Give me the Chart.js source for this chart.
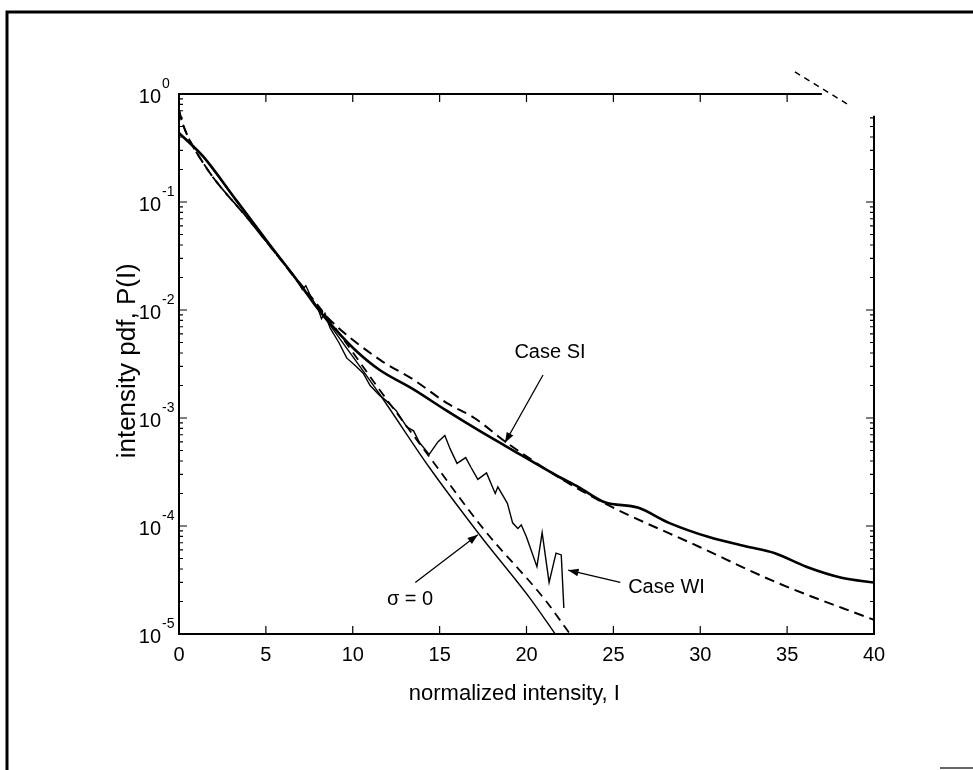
<!DOCTYPE html>
<html>
<head>
<meta charset="utf-8">
<script src="https://cdn.jsdelivr.net/npm/chart.js@4/dist/chart.umd.min.js"></script>
<style>
  body { margin: 0; background: #fff; }
  canvas { display: block; }
</style>
</head>
<body>
<canvas id="myChart" width="973" height="770"></canvas>
<script>
// Case SI, simulated (solid)
const siSolidI = [0, 1.4, 3.3, 5.2, 7.1, 7.9, 9.0, 10.2, 11.55, 13.45, 15.4, 17.3, 18.8, 21.7, 23.0, 24.5, 26.4, 28.2, 30.5, 32.6, 34.3, 36.1, 38.2, 40];
const siSolidP = [0.437, 0.263, 0.1035, 0.0407, 0.0162, 0.0107, 0.0066, 0.00417, 0.00278, 0.00186, 0.00117, 7.6e-4, 5.5e-4, 2.95e-4, 2.29e-4, 1.66e-4, 1.48e-4, 1.07e-4, 7.9e-5, 6.5e-5, 5.6e-5, 4.2e-5, 3.3e-5, 3.0e-5];

// Case SI, theory (dashed)
const siDashI = [0, 0.2, 1.4, 4.1, 5.8, 8.5, 11.55, 13.45, 15.4, 17.0, 18.8, 21.9, 24.5, 29.9, 34.5, 40];
const siDashP = [0.708, 0.537, 0.229, 0.066, 0.030, 0.0087, 0.00347, 0.00229, 0.00138, 0.001, 6.0e-4, 2.8e-4, 1.62e-4, 6.46e-5, 2.95e-5, 1.35e-5];

// Case WI, simulated (wiggly solid)
const wiI = [0, 1.4, 3.3, 5.2, 6.6, 6.8, 7.1, 7.3, 7.6, 8.0, 8.2, 8.4, 8.7, 9.2, 9.65, 10.2, 10.6, 11.0, 11.55, 12.0, 12.5, 13.1, 13.5, 13.85, 14.4, 14.9, 15.3, 15.6, 16.0, 16.5, 16.8, 17.2, 17.7, 18.2, 18.35, 18.9, 19.2, 19.5, 19.7, 20.0, 20.6, 20.9, 21.3, 21.7, 22.0, 22.15];
const wiP = [0.437, 0.263, 0.1035, 0.0407, 0.021, 0.019, 0.0155, 0.0168, 0.0132, 0.0103, 0.0083, 0.0093, 0.0068, 0.005, 0.0036, 0.003, 0.0026, 0.002, 0.00162, 0.00141, 0.00117, 8.3e-4, 7.6e-4, 5.9e-4, 4.6e-4, 6.0e-4, 6.9e-4, 5.2e-4, 3.8e-4, 4.3e-4, 3.5e-4, 2.7e-4, 3.1e-4, 2.0e-4, 2.3e-4, 1.62e-4, 1.07e-4, 9.5e-5, 1.02e-4, 7.9e-5, 4.2e-5, 8.7e-5, 3.0e-5, 5.6e-5, 5.4e-5, 1.74e-5];

// sigma = 0, simulated (solid) and theory (dashed)
const zeroSolidI = [0, 1.4, 3.3, 5.2, 7.1, 8.7, 11.55, 14.4, 17.3, 20.3, 21.65];
const zeroSolidP = [0.437, 0.263, 0.1035, 0.0407, 0.0162, 0.0072, 0.00166, 3.5e-4, 8.3e-5, 2.04e-5, 1e-5];
const zeroDashI = [0, 0.2, 1.4, 4.1, 5.8, 8.5, 11.55, 14.4, 17.5, 21.1, 22.5];
const zeroDashP = [0.708, 0.537, 0.229, 0.066, 0.030, 0.0087, 0.00182, 4.4e-4, 9.5e-5, 2.04e-5, 1e-5];

const xTicks = [0, 5, 10, 15, 20, 25, 30, 35, 40];
const yExps = [0, -1, -2, -3, -4, -5];

// annotations in data space: [I, P]
const notes = [
  { text: "Case SI", at: [21.35, 4.0e-3], tail: [20.95, 2.5e-3], head: [18.76, 5.9e-4], align: "center" },
  { text: "Case WI", at: [25.85, 2.7e-5], tail: [25.4, 3.0e-5], head: [22.4, 3.9e-5], align: "left" },
  { text: "\u03c3 = 0", at: [13.3, 2.1e-5], tail: [13.6, 3.0e-5], head: [17.2, 8.3e-5], align: "center" }
];

const FONT = "'Liberation Sans', Arial, Helvetica, sans-serif";

function pts(xs, ys) {
  return xs.map((x, i) => ({ x: x, y: ys[i] }));
}

function arrow(ctx, x1, y1, x2, y2) {
  const ang = Math.atan2(y2 - y1, x2 - x1);
  ctx.beginPath();
  ctx.moveTo(x1, y1);
  ctx.lineTo(x2, y2);
  ctx.stroke();
  ctx.beginPath();
  ctx.moveTo(x2, y2);
  ctx.lineTo(x2 - 11 * Math.cos(ang - 0.35), y2 - 11 * Math.sin(ang - 0.35));
  ctx.lineTo(x2 - 11 * Math.cos(ang + 0.35), y2 - 11 * Math.sin(ang + 0.35));
  ctx.closePath();
  ctx.fill();
}

const framePlugin = {
  id: "frame",
  afterDraw(chart) {
    const ctx = chart.ctx;
    const xs = chart.scales.x;
    const ys = chart.scales.y;
    const a = chart.chartArea;
    ctx.save();
    ctx.strokeStyle = "#000";
    ctx.fillStyle = "#000";

    // outer page border
    ctx.lineWidth = 3;
    ctx.beginPath();
    ctx.moveTo(7, 770);
    ctx.lineTo(7, 12);
    ctx.lineTo(973, 12);
    ctx.stroke();
    ctx.lineWidth = 2;
    ctx.strokeStyle = "#666";
    ctx.beginPath();
    ctx.moveTo(940, 768);
    ctx.lineTo(973, 768);
    ctx.stroke();
    ctx.strokeStyle = "#000";

    // axes box (top and right edges are broken in the scan)
    ctx.lineWidth = 2;
    ctx.beginPath();
    ctx.moveTo(xs.getPixelForValue(37), a.top);
    ctx.lineTo(a.left, a.top);
    ctx.lineTo(a.left, a.bottom);
    ctx.lineTo(a.right, a.bottom);
    ctx.lineTo(a.right, ys.getPixelForValue(0.63));
    ctx.stroke();
    ctx.lineWidth = 1.5;
    ctx.setLineDash([6, 5]);
    ctx.beginPath();
    ctx.moveTo(xs.getPixelForValue(35.45), ys.getPixelForValue(1.6));
    ctx.lineTo(xs.getPixelForValue(38.5), ys.getPixelForValue(0.8));
    ctx.stroke();
    ctx.setLineDash([]);

    // ticks, inward on all sides
    ctx.lineWidth = 1.2;
    ctx.beginPath();
    xTicks.forEach((v) => {
      const px = xs.getPixelForValue(v);
      ctx.moveTo(px, a.bottom);
      ctx.lineTo(px, a.bottom - 8);
      if (v < 37) {
        ctx.moveTo(px, a.top);
        ctx.lineTo(px, a.top + 8);
      }
    });
    yExps.forEach((e) => {
      for (let m = 1; m <= 9; m++) {
        if (e === 0 && m > 1) continue;
        const v = m * Math.pow(10, e);
        const py = ys.getPixelForValue(v);
        const len = m === 1 ? 8 : 4;
        ctx.moveTo(a.left, py);
        ctx.lineTo(a.left + len, py);
        if (v < 0.63) {
          ctx.moveTo(a.right, py);
          ctx.lineTo(a.right - len, py);
        }
      }
    });
    ctx.stroke();

    // tick labels
    ctx.font = "20px " + FONT;
    ctx.textAlign = "center";
    ctx.textBaseline = "middle";
    xTicks.forEach((v) => {
      ctx.fillText(String(v), xs.getPixelForValue(v), a.bottom + 21);
    });
    yExps.forEach((e) => {
      const py = ys.getPixelForValue(Math.pow(10, e));
      ctx.font = "20px " + FONT;
      ctx.textAlign = "right";
      ctx.fillText("10", a.left - 18, py + 3);
      ctx.font = "14px " + FONT;
      ctx.textAlign = "left";
      ctx.fillText(e === 0 ? "0" : "-" + (-e), a.left - 17, py - 10);
    });

    // axis titles
    ctx.font = "22px " + FONT;
    ctx.textAlign = "center";
    ctx.fillText("normalized intensity, I", xs.getPixelForValue(19.3), a.bottom + 60);
    ctx.save();
    ctx.translate(128, ys.getPixelForValue(Math.pow(10, -2.47)));
    ctx.rotate(-Math.PI / 2);
    ctx.font = "26px " + FONT;
    ctx.fillText("intensity pdf, P(I)", 0, 0);
    ctx.restore();

    // annotations
    ctx.font = "20px " + FONT;
    ctx.lineWidth = 1.3;
    notes.forEach((n) => {
      ctx.textAlign = n.align;
      ctx.fillText(n.text, xs.getPixelForValue(n.at[0]), ys.getPixelForValue(n.at[1]));
      arrow(ctx,
        xs.getPixelForValue(n.tail[0]), ys.getPixelForValue(n.tail[1]),
        xs.getPixelForValue(n.head[0]), ys.getPixelForValue(n.head[1]));
    });
    ctx.restore();
  }
};

function line(data, width, dash, smooth) {
  return {
    data: data,
    borderColor: "#000",
    borderWidth: width,
    borderDash: dash,
    pointRadius: 0,
    fill: false,
    cubicInterpolationMode: smooth ? "monotone" : "default",
    tension: 0
  };
}

const ctx = document.getElementById("myChart");
new Chart(ctx, {
  type: "line",
  data: {
    datasets: [
      line(pts(zeroDashI, zeroDashP), 1.8, [9, 6], true),
      line(pts(zeroSolidI, zeroSolidP), 1.4, [], true),
      line(pts(wiI, wiP), 1.4, [], false),
      line(pts(siDashI, siDashP), 2, [10, 6], true),
      line(pts(siSolidI, siSolidP), 2.6, [], true)
    ]
  },
  options: {
    responsive: false,
    animation: false,
    events: [],
    layout: { padding: { left: 179, right: 99, top: 94, bottom: 136 } },
    plugins: { legend: { display: false }, tooltip: { enabled: false } },
    scales: {
      x: { type: "linear", min: 0, max: 40, display: false },
      y: { type: "logarithmic", min: 1e-5, max: 1, display: false }
    }
  },
  plugins: [framePlugin]
});
</script>
</body>
</html>
